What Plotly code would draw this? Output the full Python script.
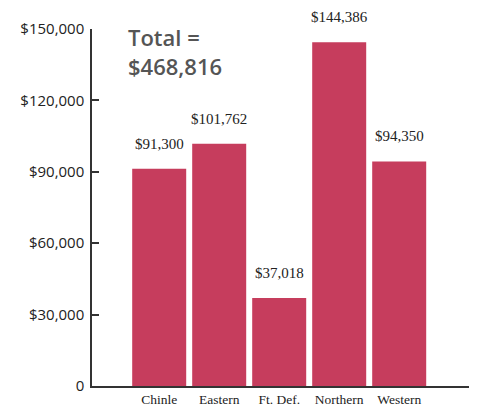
import plotly.graph_objects as go

categories = ["Chinle", "Eastern", "Ft. Def.", "Northern", "Western"]
values = [91300, 101762, 37018, 144386, 94350]
value_labels = ["$91,300", "$101,762", "$37,018", "$144,386", "$94,350"]
tick_values = [0, 30000, 60000, 90000, 120000, 150000]
tick_labels = ["0", "$30,000", "$60,000", "$90,000", "$120,000", "$150,000"]
total_text = "Total =<br>$468,816"

bar_color = "#C63D5D"
axis_color = "#333333"

fig = go.Figure()
fig.add_trace(go.Bar(
    x=list(range(len(categories))), y=values, width=0.9,
    marker=dict(color=bar_color, line=dict(width=0)),
    hoverinfo="skip",
))

for i, (v, lab) in enumerate(zip(values, value_labels)):
    fig.add_annotation(x=i, y=v, text=lab, showarrow=False, xref="x", yref="y",
                       yanchor="bottom", yshift=15,
                       font=dict(family="Liberation Serif", size=15, color="#222"))

fig.add_annotation(x=0.09, y=1.025, xref="paper", yref="paper", text=total_text,
                   showarrow=False, xanchor="left", yanchor="top", align="left",
                   font=dict(family="Open Sans", size=22, color="#555555", weight=600))

# small upward tick at the right end of the x axis
fig.add_shape(type="line", xref="paper", yref="paper", x0=1, x1=1, y0=0, y1=0.018,
              line=dict(color=axis_color, width=1.5))

# the page body adds an 8px offset, so the figure is 8px smaller than the window
fig.update_layout(
    width=469, height=401,
    margin=dict(l=84, r=7, t=21, b=23),
    paper_bgcolor="white", plot_bgcolor="white",
    showlegend=False,
    xaxis=dict(range=[-1.12, 5.18], tickvals=list(range(len(categories))),
               ticktext=categories, showgrid=False, zeroline=False, automargin=False,
               showline=True, linecolor=axis_color, linewidth=1.5, ticks="",
               ticklabelstandoff=0,
               tickfont=dict(family="Liberation Serif", size=13.5, color="#222")),
    yaxis=dict(range=[0, 150000], tickvals=tick_values, ticktext=tick_labels,
               showgrid=False, zeroline=False, showline=True, linecolor=axis_color,
               linewidth=1.5, ticks="inside", ticklen=7, tickwidth=1.5, automargin=False,
               tickcolor=axis_color, ticklabelstandoff=3,
               tickfont=dict(family="Open Sans", size=15, color="#222")),
)

fig.write_html("out.html")
